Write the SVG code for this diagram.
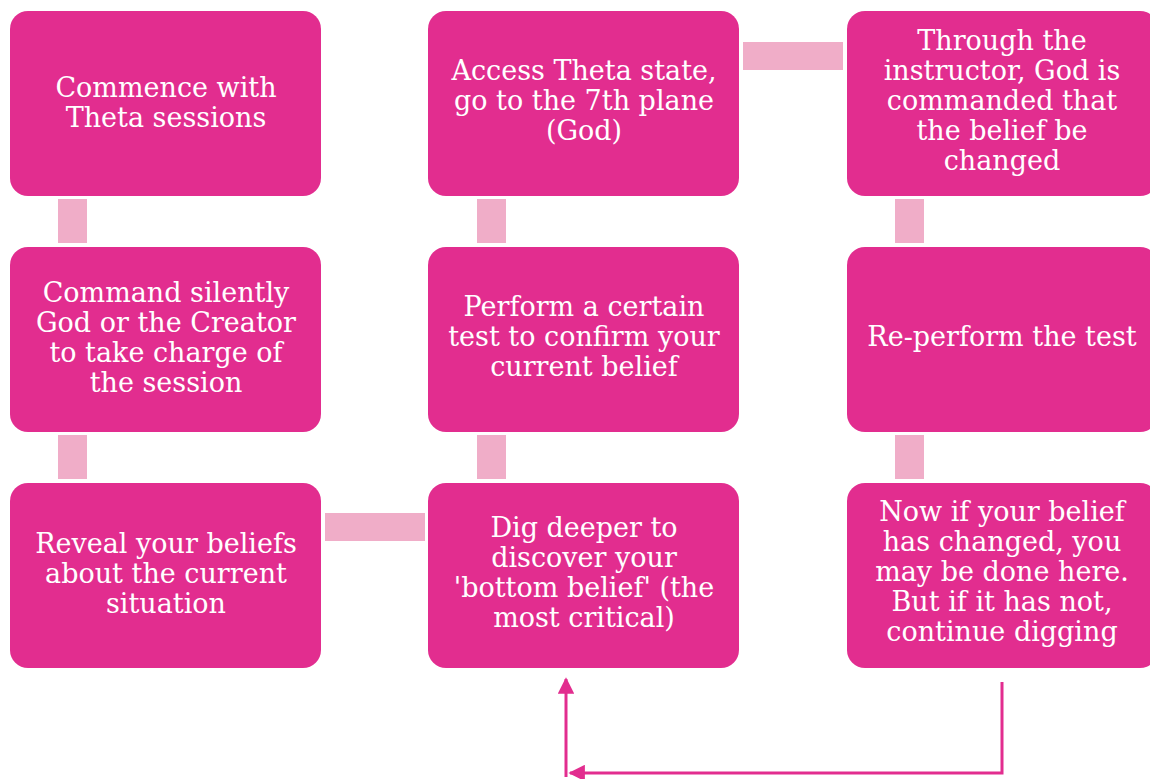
<svg xmlns="http://www.w3.org/2000/svg" width="1150" height="779" viewBox="0 0 1150 779">
<style>
.box{fill:#E22D8F;}
.bar{fill:#F0ADC8;}
.t{font-family:"DejaVu Serif","Liberation Serif",serif;font-size:27px;fill:#FFFFFF;text-anchor:middle;}
.ln{fill:none;stroke:#E22D8F;stroke-width:3;}
</style>
<defs>
<marker id="ah" viewBox="0 0 10 10" refX="9" refY="5" markerWidth="5.5" markerHeight="5.5" orient="auto" markerUnits="strokeWidth">
<path d="M0,0 L10,5 L0,10 Z" fill="#E22D8F"/>
</marker>
</defs>
<g id="connectors">
<rect class="bar" x="58" y="199" width="29" height="44"/>
<rect class="bar" x="58" y="435" width="29" height="44"/>
<rect class="bar" x="477" y="199" width="29" height="44"/>
<rect class="bar" x="477" y="435" width="29" height="44"/>
<rect class="bar" x="895" y="199" width="29" height="44"/>
<rect class="bar" x="895" y="435" width="29" height="44"/>
<rect class="bar" x="325" y="513" width="100" height="28"/>
<rect class="bar" x="743" y="42" width="100" height="28"/>
<path class="ln" d="M1002,682 L1002,773 L570,773" marker-end="url(#ah)"/>
<path class="ln" d="M566,777 L566,679" marker-end="url(#ah)"/>
</g>
<g id="n1"><rect class="box" x="10" y="11" width="311" height="185" rx="18"/>
<text class="t"><tspan x="166" y="97">Commence with</tspan><tspan x="166" y="127">Theta sessions</tspan></text></g>
<g id="n2"><rect class="box" x="10" y="247" width="311" height="185" rx="18"/>
<text class="t"><tspan x="166" y="302">Command silently</tspan><tspan x="166" y="332">God or the Creator</tspan><tspan x="166" y="362">to take charge of</tspan><tspan x="166" y="392">the session</tspan></text></g>
<g id="n3"><rect class="box" x="10" y="483" width="311" height="185" rx="18"/>
<text class="t"><tspan x="166" y="553">Reveal your beliefs</tspan><tspan x="166" y="583">about the current</tspan><tspan x="166" y="613">situation</tspan></text></g>
<g id="n4"><rect class="box" x="428" y="483" width="311" height="185" rx="18"/>
<text class="t"><tspan x="584" y="537">Dig deeper to</tspan><tspan x="584" y="567">discover your</tspan><tspan x="584" y="597">'bottom belief' (the</tspan><tspan x="584" y="627">most critical)</tspan></text></g>
<g id="n5"><rect class="box" x="428" y="247" width="311" height="185" rx="18"/>
<text class="t"><tspan x="584" y="316">Perform a certain</tspan><tspan x="584" y="346">test to confirm your</tspan><tspan x="584" y="376">current belief</tspan></text></g>
<g id="n6"><rect class="box" x="428" y="11" width="311" height="185" rx="18"/>
<text class="t"><tspan x="584" y="80">Access Theta state,</tspan><tspan x="584" y="110">go to the 7th plane</tspan><tspan x="584" y="140">(God)</tspan></text></g>
<g id="n7"><rect class="box" x="847" y="11" width="311" height="185" rx="18"/>
<text class="t"><tspan x="1002" y="50">Through the</tspan><tspan x="1002" y="80">instructor, God is</tspan><tspan x="1002" y="110">commanded that</tspan><tspan x="1002" y="140">the belief be</tspan><tspan x="1002" y="170">changed</tspan></text></g>
<g id="n8"><rect class="box" x="847" y="247" width="311" height="185" rx="18"/>
<text class="t"><tspan x="1002" y="346">Re-perform the test</tspan></text></g>
<g id="n9"><rect class="box" x="847" y="483" width="311" height="185" rx="18"/>
<text class="t"><tspan x="1002" y="521">Now if your belief</tspan><tspan x="1002" y="551">has changed, you</tspan><tspan x="1002" y="581">may be done here.</tspan><tspan x="1002" y="611">But if it has not,</tspan><tspan x="1002" y="641">continue digging</tspan></text></g>
</svg>
